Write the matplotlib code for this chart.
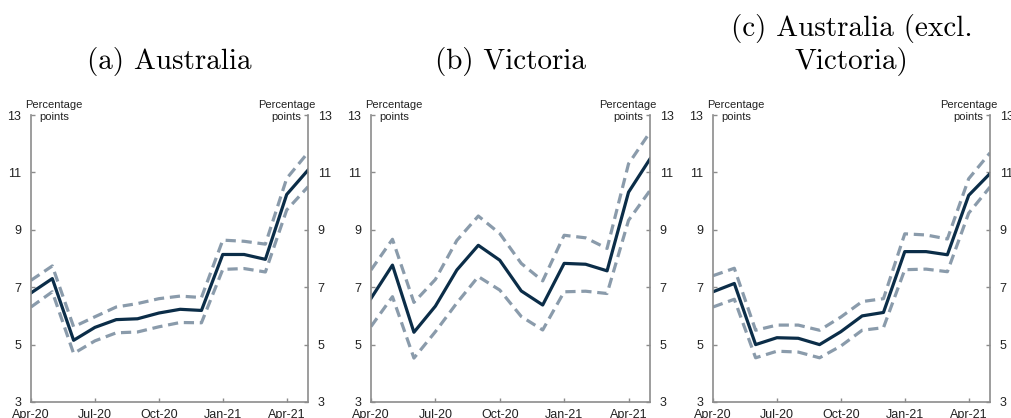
import matplotlib
matplotlib.use("Agg")
import matplotlib.pyplot as plt

# Meses desde Apr-20 hasta May-21
meses = list(range(14))
etiquetas_x = ['Apr-20', 'Jul-20', 'Oct-20', 'Jan-21', 'Apr-21']
pos_x = [0, 3, 6, 9, 12]

titulos = ['(a) Australia', '(b) Victoria', '(c) Australia (excl.\nVictoria)']

# (a) Australia
aus_central = [6.80, 7.30, 5.15, 5.60, 5.87, 5.90, 6.10, 6.23, 6.19, 8.14, 8.14, 7.97, 10.23, 11.08]
aus_sup = [7.24, 7.74, 5.62, 5.97, 6.31, 6.43, 6.60, 6.69, 6.64, 8.64, 8.60, 8.50, 10.79, 11.69]
aus_inf = [6.31, 6.84, 4.69, 5.13, 5.41, 5.44, 5.62, 5.77, 5.76, 7.62, 7.65, 7.53, 9.69, 10.50]

# (b) Victoria
vic_central = [6.61, 7.77, 5.43, 6.34, 7.60, 8.46, 7.94, 6.87, 6.38, 7.83, 7.80, 7.57, 10.31, 11.47]
vic_sup = [7.60, 8.67, 6.47, 7.27, 8.63, 9.48, 8.87, 7.83, 7.22, 8.81, 8.72, 8.35, 11.30, 12.40]
vic_inf = [5.63, 6.67, 4.53, 5.45, 6.45, 7.37, 6.90, 5.98, 5.51, 6.84, 6.86, 6.78, 9.33, 10.37]

# (c) Australia sin Victoria
resto_central = [6.84, 7.13, 5.00, 5.24, 5.22, 5.00, 5.45, 6.00, 6.12, 8.24, 8.24, 8.13, 10.20, 10.96]
resto_sup = [7.40, 7.66, 5.50, 5.68, 5.68, 5.50, 5.96, 6.50, 6.60, 8.86, 8.82, 8.68, 10.78, 11.68]
resto_inf = [6.31, 6.58, 4.54, 4.77, 4.74, 4.54, 4.95, 5.50, 5.59, 7.61, 7.63, 7.54, 9.58, 10.49]

series = [
    (aus_central, aus_sup, aus_inf),
    (vic_central, vic_sup, vic_inf),
    (resto_central, resto_sup, resto_inf),
]

color_central = '#0b2d48'
color_banda = '#8a9bab'
color_eje = '#8c8c8c'

plt.rcParams['font.family'] = ['Liberation Sans', 'DejaVu Sans']

fig = plt.figure(figsize=(10.11, 4.18), dpi=100)
W, H = 1011, 418
cajas = [(31, 308), (371, 650), (713, 990)]
arriba, abajo = 115, 402

for (izq, der), titulo, (central, sup, inf) in zip(cajas, titulos, series):
    ax = fig.add_axes([izq / W, (H - abajo) / H, (der - izq) / W, (abajo - arriba) / H])
    ax.plot(meses, sup, color=color_banda, lw=2.3, dashes=(3.2, 1.8))
    ax.plot(meses, inf, color=color_banda, lw=2.3, dashes=(3.2, 1.8))
    ax.plot(meses, central, color=color_central, lw=2.3)

    ax.set_xlim(0, 13)
    ax.set_ylim(3, 13)
    ax.set_yticks([3, 5, 7, 9, 11, 13])
    ax.set_xticks(pos_x)
    ax.set_xticklabels(etiquetas_x)

    for lado in ['left', 'right', 'bottom']:
        ax.spines[lado].set_color(color_eje)
        ax.spines[lado].set_linewidth(1.2)
    ax.spines['top'].set_visible(False)

    ax.tick_params(axis='both', direction='in', length=3, width=1, color=color_eje,
                   labelsize=9, labelcolor='#222222')
    ax.tick_params(axis='y', pad=7, right=True, labelright=True)
    ax.tick_params(axis='x', pad=5)

    ax.text(0.083, 1.014, 'Percentage\npoints', transform=ax.transAxes, ha='center',
            va='center', fontsize=8, color='#222222', linespacing=1.2)
    ax.text(0.922, 1.014, 'Percentage\npoints', transform=ax.transAxes, ha='center',
            va='center', fontsize=8, color='#222222', linespacing=1.2)

    ax.set_title(titulo, family='cmr10', fontsize=21, pad=33, linespacing=1.2)

fig.savefig('out.png', dpi=100)
